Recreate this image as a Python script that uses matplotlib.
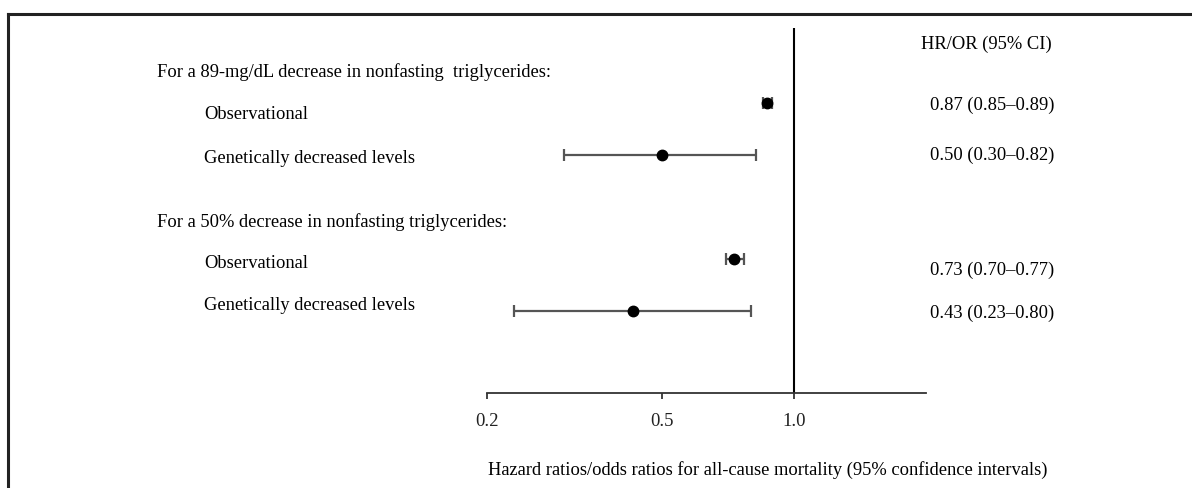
import matplotlib
matplotlib.use("Agg")
import matplotlib.pyplot as plt
from matplotlib.lines import Line2D
import numpy as np

plt.rcParams['font.family'] = ['Liberation Serif', 'DejaVu Serif']

# data
row_labels = ["Observational", "Genetically decreased levels",
              "Observational", "Genetically decreased levels"]
group_titles = ["For a 89-mg/dL decrease in nonfasting  triglycerides:",
                "For a 50% decrease in nonfasting triglycerides:"]
estimate = [0.87, 0.50, 0.73, 0.43]
ci_low = [0.85, 0.30, 0.70, 0.23]
ci_high = [0.89, 0.82, 0.77, 0.80]
row_pos = [1, 2, 4, 5]
x_ticks = [0.2, 0.5, 1.0]
x_ticklabels = ["0.2", "0.5", "1.0"]

W, H = 1192, 488
fig = plt.figure(figsize=(W / 100, H / 100), dpi=100)


def px(x, y):
    return x / W, 1 - y / H


# frame lines (top and left only, image is cropped)
fig.add_artist(Line2D([8 / W, 1], [1 - 14 / H, 1 - 14 / H], color="#222222", lw=2.2))
fig.add_artist(Line2D([8 / W, 8 / W], [0, 1 - 14 / H], color="#222222", lw=2.2))

ax = fig.add_axes([487 / W, 95 / H, 439 / W, 365 / H])
ax.set_xscale("log")
ax.set_xlim(0.2, 2.0)
ax.set_ylim(6.577, -0.442)

est = np.array(estimate)
err = np.array([est - np.array(ci_low), np.array(ci_high) - est])
ax.errorbar(est, row_pos, xerr=err, fmt="o", color="black", ms=7.5,
            ecolor="#555555", elinewidth=1.6, capsize=4.5, capthick=1.6)
ax.axvline(1.0, color="black", lw=1.5)

for s in ["top", "right", "left"]:
    ax.spines[s].set_visible(False)
ax.spines["bottom"].set_color("#333333")
ax.spines["bottom"].set_linewidth(1.3)
ax.set_yticks([])
ax.set_xticks(x_ticks)
ax.set_xticklabels(x_ticklabels)
ax.minorticks_off()
ax.tick_params(axis="x", length=4.5, width=1.2, pad=10, labelsize=13.5, colors="#222222")

fs = 13.3
# group headings and row labels
title_y = [77, 227]
for t, y in zip(group_titles, title_y):
    fig.text(*px(157, y), t, fontsize=fs, va="baseline", ha="left")
label_y = [119, 163, 268, 310]
for t, y in zip(row_labels, label_y):
    fig.text(*px(204, y), t, fontsize=fs, va="baseline", ha="left")

# right column
fig.text(*px(921, 49), "HR/OR (95% CI)", fontsize=fs, va="baseline", ha="left")
value_y = [110, 160, 275, 318]
for e, lo, hi, y in zip(estimate, ci_low, ci_high, value_y):
    fig.text(*px(930, y), f"{e:.2f} ({lo:.2f}\u2013{hi:.2f})", fontsize=fs,
             va="baseline", ha="left")

fig.text(*px(488, 475),
         "Hazard ratios/odds ratios for all-cause mortality (95% confidence intervals)",
         fontsize=fs, va="baseline", ha="left")

fig.savefig("out.png", dpi=100)
